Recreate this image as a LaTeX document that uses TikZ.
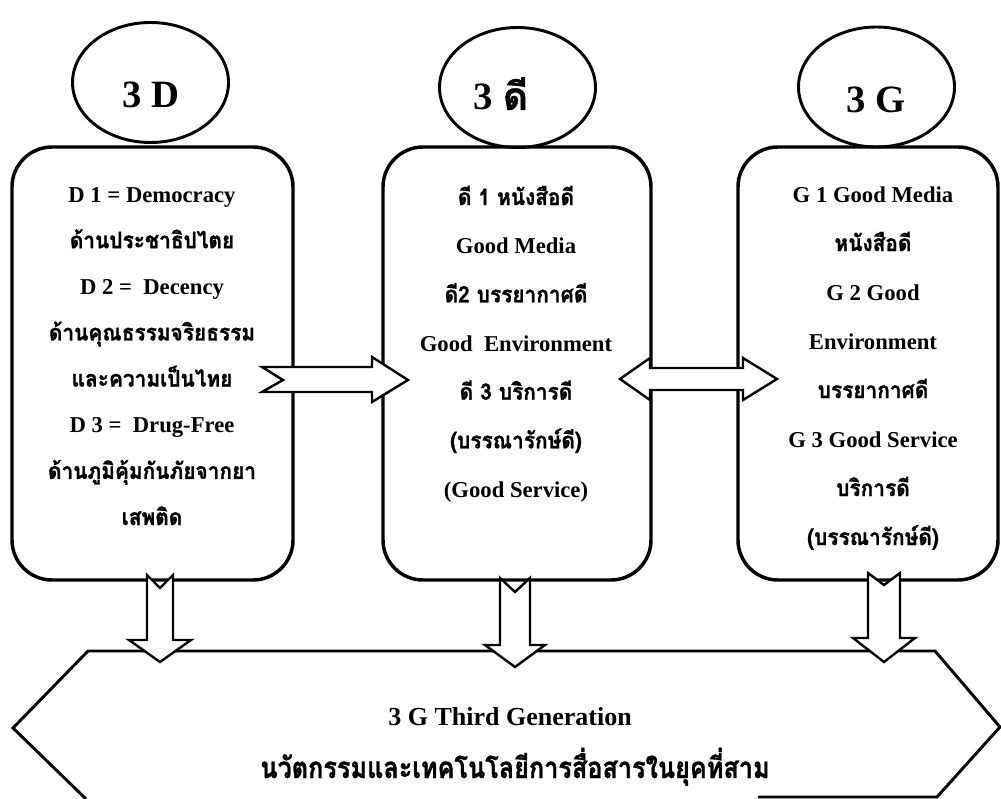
\documentclass[tikz,border=0pt]{standalone}
\usepackage{fontspec}
\usepackage{graphicx}
\setmainfont{Liberation Serif}
\newfontfamily\thaifont[Script=Thai, BoldFeatures={FakeBold=1.2}]{Loma}
\usetikzlibrary{fit,shapes.geometric}
\newcommand\tht[1]{{\thaifont\bfseries\scalebox{0.92}[1]{#1}}}
\begin{document}
\begin{tikzpicture}[x=0.75pt,y=-0.75pt,
  boxst/.style={draw, line width=2.6pt, rounded corners=30pt, inner sep=0pt},
  ellst/.style={draw, ellipse, line width=2.2pt, minimum width=117pt, minimum height=90pt, inner sep=0pt},
  etxt/.style={font=\fontsize{29}{30}\bfseries\selectfont, anchor=base, inner sep=0pt},
  txt/.style={align=center, anchor=base, inner sep=0pt},
  blk/.style={draw, line width=1.8pt, fill=white, line join=miter},
  hexst/.style={draw, line width=2.2pt, line join=miter}]
\useasboundingbox (0,0) rectangle (1001,799);

% boxes
\node[boxst, fit={(12,147) (293,580)}] (box1) {};
\node[boxst, fit={(383,147) (651,580)}] (box2) {};
\node[boxst, fit={(738,147) (998,580)}] (box3) {};

% ellipses
\node[ellst] (e1) at (150.5,82.5) {};
\node[ellst] (e2) at (517.5,87.5) {};
\node[ellst] (e3) at (876.5,87) {};
\node[etxt] (e1t) at (151,108) {3 D};
\node[etxt] (e2t) at (501,110) {3 {\thaifont\bfseries ดี}};
\node[etxt] (e3t) at (876,113) {3 G};

% box texts (anchored at the baseline of the last line)
\node[txt, font=\fontsize{17}{34.6}\bfseries\selectfont] (t1) at (152,525) {%
D 1 = Democracy\\
\tht{ด้านประชาธิปไตย}\\
D 2 =\ \ Decency\\
\tht{ด้านคุณธรรมจริยธรรม}\\
\tht{และความเป็นไทย}\\
D 3 =\ \ Drug-Free\\
\tht{ด้านภูมิคุ้มกันภัยจากยา}\\
\tht{เสพติด}};

\node[txt, font=\fontsize{17}{36.5}\bfseries\selectfont] (t2) at (516,497) {%
\tht{ดี 1 หนังสือดี}\\
Good Media\\
\tht{ดี2 บรรยากาศดี}\\
Good\ \ Environment\\
\tht{ดี 3 บริการดี}\\
\tht{(บรรณารักษ์ดี)}\\
(Good Service)};

\node[txt, font=\fontsize{17}{36.75}\bfseries\selectfont] (t3) at (873,545) {%
G 1 Good Media\\
\tht{หนังสือดี}\\
G 2 Good\\
Environment\\
\tht{บรรยากาศดี}\\
G 3 Good Service\\
\tht{บริการดี}\\
\tht{(บรรณารักษ์ดี)}};

% bottom hexagon
\draw[hexst] (86,799) -- (13,728) -- (88,651) -- (935,651) -- (1000,727) -- (937,797) -- (758,797);
\node[txt, font=\fontsize{19.5}{20}\bfseries\selectfont] (h1) at (510,725) {3 G Third Generation};
\node[txt, font=\fontsize{22}{24}\bfseries\selectfont] (h2) at (515,778) {{\thaifont\bfseries\scalebox{0.86}[1]{นวัตกรรมและเทคโนโลยีการสื่อสารในยุคที่สาม}}};

% block arrows
\draw[blk] (262,367) -- (372,367) -- (372,357) -- (408,380) -- (372,402) -- (372,392) -- (262,392) -- (283,380) -- cycle;
\draw[blk] (620,379) -- (650,358) -- (650,368) -- (743,368) -- (743,358) -- (777,379) -- (743,400) -- (743,390) -- (650,390) -- (650,400) -- cycle;
\draw[blk] (147,575) -- (160,588) -- (173,575) -- (173,640) -- (191,640) -- (160,662) -- (129,640) -- (147,640) -- cycle;
\draw[blk] (500,578) -- (515,592) -- (530,578) -- (530,645) -- (545,645) -- (515,667) -- (485,645) -- (500,645) -- cycle;
\draw[blk] (868,573) -- (884,585) -- (900,573) -- (900,638) -- (915,638) -- (884,662) -- (853,638) -- (868,638) -- cycle;
\end{tikzpicture}
\end{document}
